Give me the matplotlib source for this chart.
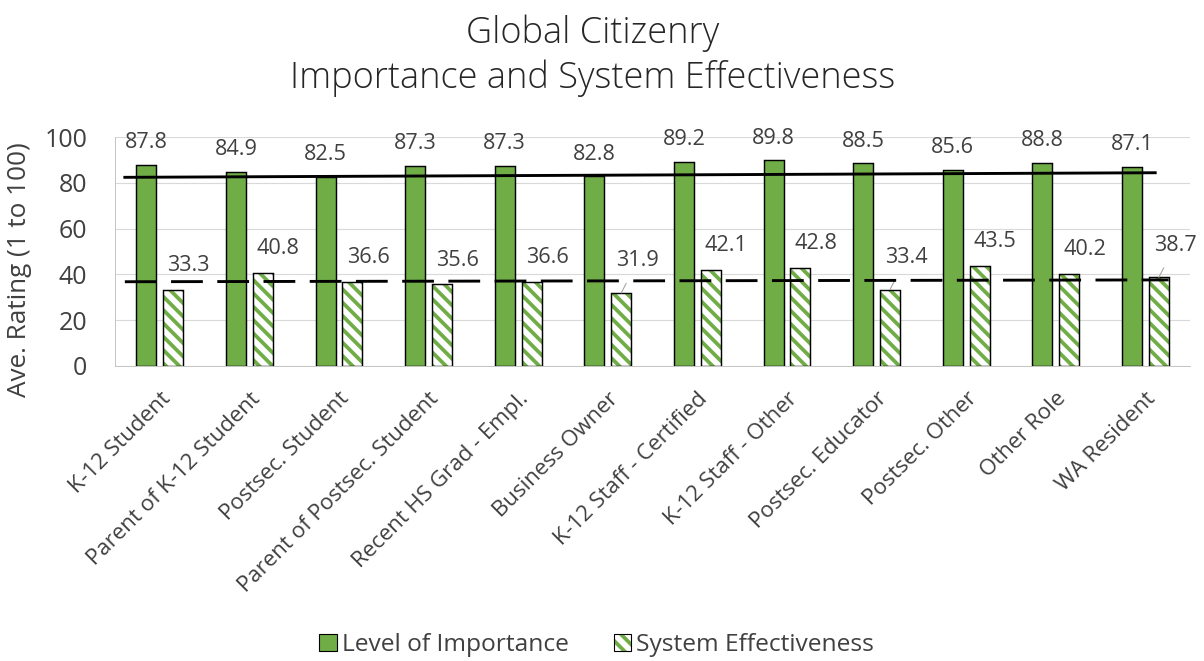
import matplotlib
matplotlib.use("Agg")
import matplotlib.pyplot as plt
from matplotlib.patches import Patch
import numpy as np

plt.rcParams.update({
    "font.family": ["Open Sans", "DejaVu Sans"],
    "hatch.linewidth": 3.4,
})

GREEN = "#70AD47"
TXT = "#404040"

categories = ["K-12 Student", "Parent of K-12 Student", "Postsec. Student",
              "Parent of Postsec. Student", "Recent HS Grad - Empl.",
              "Business Owner", "K-12 Staff - Certified", "K-12 Staff - Other",
              "Postsec. Educator", "Postsec. Other", "Other Role", "WA Resident"]
importance = [87.8, 84.9, 82.5, 87.3, 87.3, 82.8, 89.2, 89.8, 88.5, 85.6, 88.8, 87.1]
effectiveness = [33.3, 40.8, 36.6, 35.6, 36.6, 31.9, 42.1, 42.8, 33.4, 43.5, 40.2, 38.7]
# reference lines (start value, end value)
importance_ref = [82.4, 84.4]
effectiveness_ref = [36.8, 37.6]
# effectiveness labels that sit higher with a leader line
leader_idx = [5, 8, 11]

fig = plt.figure(figsize=(15.05, 8.2625), dpi=80)
ax = fig.add_axes([0.0955, 0.4463, 0.893, 0.3464])

x = np.arange(len(categories))
w = 0.223
off = 0.15

ax.bar(x - off, importance, w, color=GREEN, edgecolor="black", lw=1.3, zorder=2)
ax.bar(x + off, effectiveness, w, color="white", edgecolor=GREEN, hatch="\\\\", lw=0, zorder=2)
ax.bar(x + off, effectiveness, w, color="none", edgecolor="black", lw=1.3, zorder=3)

ax.plot([x[0] - 0.39, x[-1] + 0.11], importance_ref, color="black", lw=2.6, zorder=4)
ax.plot([x[0] - 0.39, x[-1] + 0.26], effectiveness_ref, color="black", lw=2.6,
        dashes=(11, 5), zorder=4)

for i, v in enumerate(importance):
    ax.annotate(f"{v:.1f}", (x[i] - off, v), xytext=(0, 20), textcoords="offset points",
                ha="center", va="center", fontsize=19.5, color=TXT)
for i, v in enumerate(effectiveness):
    if i in leader_idx:
        ax.annotate(f"{v:.1f}", (x[i] + off, v), xytext=(15, 29), textcoords="offset points",
                    ha="center", va="center", fontsize=19.5, color=TXT,
                    arrowprops=dict(arrowstyle="-", color="#A6A6A6", lw=1,
                                    shrinkA=10, shrinkB=0))
    else:
        ax.annotate(f"{v:.1f}", (x[i] + off, v), xytext=(14, 22), textcoords="offset points",
                    ha="center", va="center", fontsize=19.5, color=TXT)

ax.set_xlim(-0.5, len(categories) - 0.5)
ax.set_ylim(0, 100)
ax.set_yticks(range(0, 101, 20))
ax.yaxis.grid(True, color="#D9D9D9", lw=1)
ax.set_axisbelow(True)
for s in ["top", "right"]:
    ax.spines[s].set_visible(False)
ax.spines["left"].set_color("#BFBFBF")
ax.spines["bottom"].set_color("#BFBFBF")
ax.tick_params(axis="both", length=0, colors=TXT)
ax.tick_params(axis="y", labelsize=22.5, pad=25)
ax.set_xticks(x)
ax.set_xticklabels(categories, rotation=45, ha="right", va="top",
                   rotation_mode="anchor", fontsize=20)
ax.tick_params(axis="x", pad=20)
ax.set_ylabel("Ave. Rating (1 to 100)", fontsize=23.5, color=TXT)
ax.yaxis.set_label_coords(-0.077, 0.42)

fig.text(0.4925, 0.950, "Global Citizenry", ha="center", va="center",
         fontsize=32.5, color="#262626", fontweight="light")
fig.text(0.4925, 0.882, "Importance and System Effectiveness", ha="center", va="center",
         fontsize=32.5, color="#262626", fontweight="light")

handles = [Patch(facecolor=GREEN, edgecolor="black", lw=1),
           (Patch(facecolor="white", edgecolor=GREEN, hatch="\\\\", lw=0),
            Patch(facecolor="none", edgecolor="black", lw=1))]
fig.legend(handles, ["Level of Importance", "System Effectiveness"],
           loc="center", bbox_to_anchor=(0.4955, 0.024), ncol=2, frameon=False,
           fontsize=22, handlelength=0.72, handleheight=0.72, handletextpad=0.2,
           columnspacing=1.85, labelcolor=TXT)

fig.savefig("out.png", dpi=80, facecolor="white")
